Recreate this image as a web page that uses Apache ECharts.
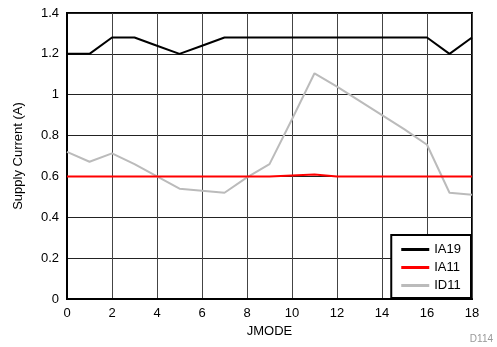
<!DOCTYPE html>
<html>
<head>
<meta charset="utf-8">
<script src="https://cdn.jsdelivr.net/npm/echarts@6/dist/echarts.min.js"></script>
<style>
    html, body { margin: 0; padding: 0; background: #fff; }
    #main { width: 497px; height: 347px; }
</style>
</head>
<body>
<div id="main"></div>
<script>
// JMODE 0..18
var jmode = [0, 1, 2, 3, 4, 5, 6, 7, 8, 9, 10, 11, 12, 13, 14, 15, 16, 17, 18];
var ia19 = [1.2, 1.2, 1.28, 1.28, 1.24, 1.2, 1.24, 1.28, 1.28, 1.28, 1.28, 1.28, 1.28, 1.28, 1.28, 1.28, 1.28, 1.2, 1.28];
var ia11 = [0.6, 0.6, 0.6, 0.6, 0.6, 0.6, 0.6, 0.6, 0.6, 0.6, 0.605, 0.61, 0.6, 0.6, 0.6, 0.6, 0.6, 0.6, 0.6];
var id11 = [0.72, 0.672, 0.713, 0.66, 0.6, 0.54, 0.53, 0.52, 0.595, 0.66, 0.88, 1.105, 1.04, 0.97, 0.9, 0.83, 0.755, 0.52, 0.51];

function pairs(vals) {
    return vals.map(function(v, i) {
        return [jmode[i], v];
    });
}

var font = 'Liberation Sans, Arial, sans-serif';
var myChart = echarts.init(document.getElementById('main'));

function lineSeries(name, vals, color) {
    return {
        name: name,
        type: 'line',
        symbol: 'none',
        lineStyle: { color: color, width: 2 },
        itemStyle: { color: color },
        data: pairs(vals)
    };
}

var option = {
    animation: false,
    backgroundColor: '#fff',
    textStyle: { fontFamily: font },
    grid: {
        left: 67,
        right: 25,
        top: 13,
        bottom: 48,
        show: true,
        borderColor: '#000',
        borderWidth: 2
    },
    xAxis: {
        type: 'value',
        min: 0,
        max: 18,
        interval: 2,
        name: 'JMODE',
        nameLocation: 'middle',
        nameGap: 21,
        nameTextStyle: { color: '#000', fontSize: 13, fontFamily: font },
        axisLine: { show: true, lineStyle: { color: '#000', width: 2 } },
        axisTick: { show: false },
        axisLabel: { color: '#000', fontSize: 13, margin: 8, fontFamily: font },
        splitLine: { show: true, lineStyle: { color: '#444', width: 1 } }
    },
    yAxis: {
        type: 'value',
        min: 0,
        max: 1.4,
        interval: 0.2,
        name: 'Supply Current (A)',
        nameLocation: 'middle',
        nameGap: 42,
        nameTextStyle: { color: '#000', fontSize: 13, fontFamily: font },
        axisLine: { show: true, lineStyle: { color: '#000', width: 2 } },
        axisTick: { show: false },
        axisLabel: {
            color: '#000',
            fontSize: 13,
            margin: 8,
            fontFamily: font,
            formatter: function(v) {
                return String(Math.round(v * 10) / 10);
            }
        },
        splitLine: { show: true, lineStyle: { color: '#222', width: 1 } }
    },
    legend: {
        orient: 'vertical',
        right: 26,
        bottom: 49,
        backgroundColor: '#fff',
        borderColor: '#000',
        borderWidth: 2,
        padding: [8, 10, 6, 10],
        itemGap: 5,
        itemWidth: 28,
        itemHeight: 3,
        icon: 'rect',
        textStyle: { color: '#000', fontSize: 13, fontFamily: font },
        data: ['IA19', 'IA11', 'ID11']
    },
    graphic: [{
        type: 'text',
        right: 4,
        bottom: 3,
        style: { text: 'D114', fill: '#999', fontSize: 10, fontFamily: font }
    }],
    series: [
        lineSeries('ID11', id11, '#bbbbbb'),
        lineSeries('IA11', ia11, '#ff0000'),
        lineSeries('IA19', ia19, '#000000')
    ]
};
myChart.setOption(option);
</script>
</body>
</html>
